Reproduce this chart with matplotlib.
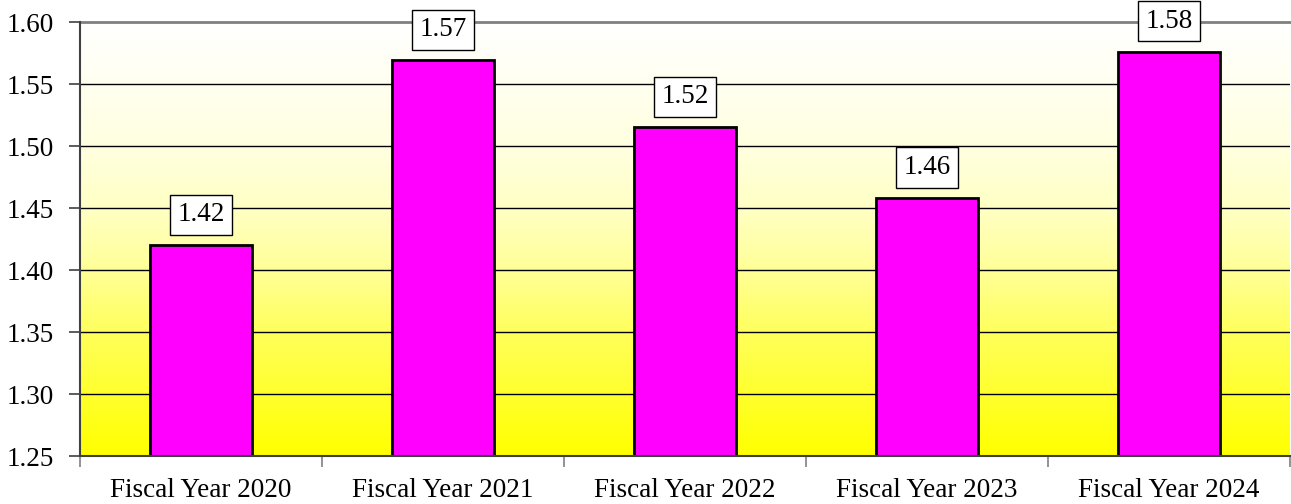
import numpy as np
import matplotlib.pyplot as plt
from matplotlib.colors import LinearSegmentedColormap

categories = ["Fiscal Year 2020", "Fiscal Year 2021", "Fiscal Year 2022",
              "Fiscal Year 2023", "Fiscal Year 2024"]
values = [1.42, 1.569, 1.515, 1.458, 1.576]
labels = ["1.42", "1.57", "1.52", "1.46", "1.58"]
yticks = [1.25, 1.30, 1.35, 1.40, 1.45, 1.50, 1.55, 1.60]

plt.rcParams['font.family'] = ['Liberation Serif', 'DejaVu Serif']
FS = 19.5

fig = plt.figure(figsize=(12.91, 5.04), dpi=100)
ax = fig.add_axes([80 / 1291, 1 - 456 / 504, 1210 / 1291, 434 / 504])

ymin, ymax = 1.25, 1.60
n = len(categories)
x = np.arange(n)
ax.set_xlim(-0.5, n - 0.5)
ax.set_ylim(ymin, ymax)

# yellow -> white background, fading quickly towards the top
cmap = LinearSegmentedColormap.from_list("bg", [
    (0.0, "#ffff00"), (0.28, "#ffff5a"), (0.43, "#ffff98"),
    (0.57, "#ffffc4"), (0.71, "#ffffdf"), (0.86, "#fffff0"), (1.0, "#ffffff")])
grad = np.linspace(0, 1, 256).reshape(-1, 1)
ax.imshow(grad, cmap=cmap, aspect='auto', origin='lower',
          extent=(-0.5, n - 0.5, ymin, ymax), zorder=0)

# gridlines
for y in yticks[1:-1]:
    ax.axhline(y, color='black', lw=1.0, zorder=1)
ax.axhline(ymax, color='#808080', lw=2.0, zorder=1, clip_on=False)

ax.bar(x, [v - ymin for v in values], bottom=ymin, width=0.42,
       color='#ff00ff', edgecolor='black', linewidth=2, zorder=2)

for xi, v, lab in zip(x, values, labels):
    ax.annotate(lab, (xi, v), xytext=(0, 13), textcoords='offset points',
                ha='center', va='bottom', fontsize=FS, zorder=4,
                bbox=dict(boxstyle='square,pad=0.28', fc='white', ec='black', lw=1),
                annotation_clip=False)

for s in ['top', 'right']:
    ax.spines[s].set_visible(False)
ax.spines['left'].set_color('#404040')
ax.spines['left'].set_linewidth(1.5)
ax.spines['bottom'].set_color('#404040')
ax.spines['bottom'].set_linewidth(1.5)

ax.set_yticks(yticks)
ax.set_yticklabels([f"{t:.2f}" for t in yticks], fontsize=FS)
ax.tick_params(axis='y', length=8, width=1.2, color='#404040', pad=11)

ax.set_xticks(np.arange(n + 1) - 0.5)
ax.set_xticklabels([])
ax.set_xticks(x, minor=True)
ax.set_xticklabels(categories, minor=True, fontsize=FS)
ax.tick_params(axis='x', which='major', length=8, width=1.2, color='#808080')
ax.tick_params(axis='x', which='minor', length=0, pad=16)

fig.savefig("out.png", dpi=100)
